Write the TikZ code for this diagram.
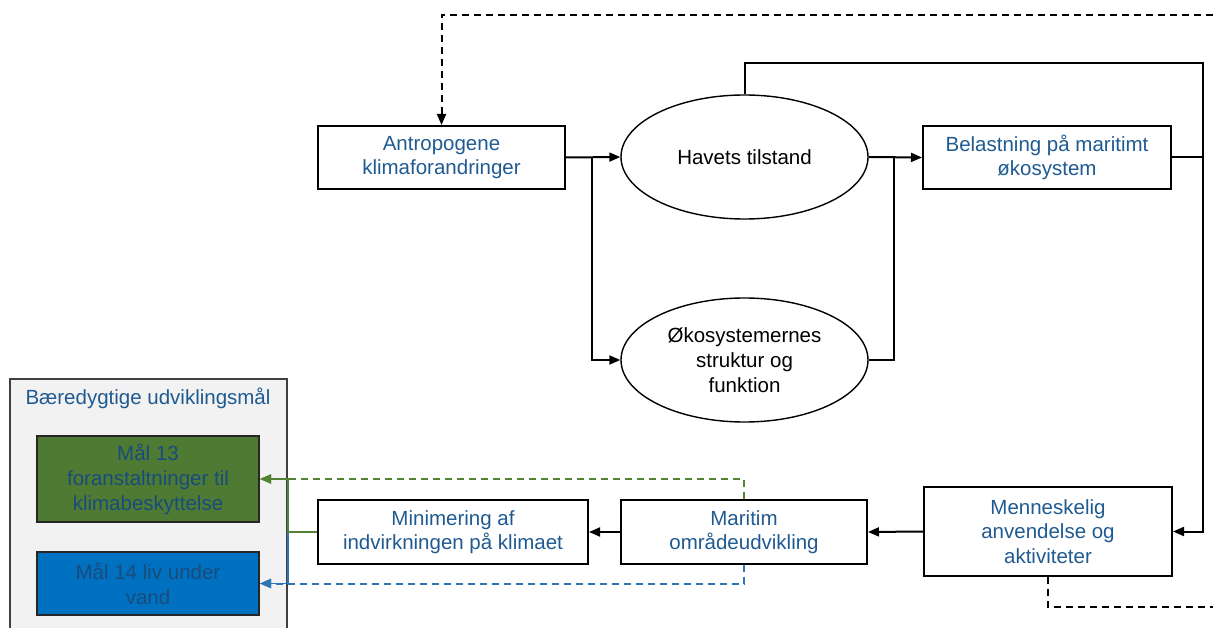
\documentclass[tikz,border=0pt]{standalone}
\usepackage{fontspec}
\setmainfont{Liberation Sans}
\usetikzlibrary{arrows.meta,shapes.geometric}

\definecolor{tekstblaa}{RGB}{31,90,145}
\definecolor{maalgroen}{RGB}{78,122,52}
\definecolor{maalblaa}{RGB}{0,112,192}
\definecolor{pilgroen}{RGB}{84,130,53}
\definecolor{pilblaa}{RGB}{46,117,182}
\definecolor{panelgraa}{RGB}{242,242,242}
\definecolor{kantgraa}{RGB}{64,64,64}

\tikzset{every picture/.style={line width=2pt}}
\tikzset{
  boks/.style={draw, rectangle, inner sep=0pt, align=center, text=tekstblaa,
    font=\fontsize{20.5}{24.5}\selectfont},
  oval/.style={draw, ellipse, line width=1.4pt, inner sep=0pt, align=center,
    minimum width=247pt, minimum height=124pt, font=\fontsize{20.5}{25}\selectfont},
  maal/.style={draw=black!85, rectangle, inner sep=0pt, align=center, text=tekstblaa!85!black,
    minimum width=222pt, font=\fontsize{20.5}{25}\selectfont},
  pil/.style={-{Triangle[length=11pt,width=9pt]}},
  stiplet/.style={dashed, dash pattern=on 7pt off 5pt}
}

\begin{document}
\begin{tikzpicture}[x=1pt,y=1pt,yscale=-1,xscale=1]
\path[use as bounding box] (0,0) rectangle (1213,628);

% panel with the goals
\fill[panelgraa] (10,628) rectangle (287,379);
\draw[kantgraa] (10,628) -- (10,379) -- (287,379) -- (287,628);
\node[text=tekstblaa, font=\fontsize{20.5}{24}\selectfont] (sdg) at (148,398) {Bæredygtige udviklingsmål};
\node[maal, fill=maalgroen, minimum height=86pt] (maal13) at (148,479) {Mål 13\\foranstaltninger til\\klimabeskyttelse};
\node[maal, fill=maalblaa, minimum height=63pt] (maal14) at (148,583.5) {Mål 14 liv under\\vand};

% boxes
\node[boks, minimum width=247pt, minimum height=63pt] (antro) at (441.5,157.5) {Antropogene\\klimaforandringer};
\node[oval] (havet) at (744.5,157) {Havets tilstand};
\node[oval] (oekosys) at (744.5,360) {Økosystemernes\\struktur og\\funktion};
\node[boks, minimum width=248pt, minimum height=63pt] (belast) at (1047,157.5) {Belastning på maritimt\\økosystem};
\node[boks, minimum width=248pt, minimum height=89pt] (menne) at (1048,531.5) {Menneskelig\\anvendelse og\\aktiviteter};
\node[boks, minimum width=246pt, minimum height=64pt] (maritim) at (744,532) {Maritim\\områdeudvikling};
\node[boks, minimum width=270pt, minimum height=64pt] (minim) at (453,532) {Minimering af\\indvirkningen på klimaet};

\coordinate (j1) at (592,157);
\coordinate (j2) at (894,157);
\coordinate (hjoerne) at (1203,63);
\coordinate (j3) at (288,532);
\coordinate (topH) at (1213,15);
\coordinate (bundH) at (1213,607);

% connectors
\draw[pil] (antro.east) -- (havet.west);
\draw[pil] (j1) |- (oekosys.west);
\draw[pil] (havet.east) -- (belast.west);
\draw (oekosys.east) -| (j2);
\draw[pil] (havet.north) |- (hjoerne) |- (menne.east);
\draw (belast.east) -- (belast.east -| hjoerne);
\draw[pil] (menne.west) -- (maritim.east);
\draw[pil] (maritim.west) -- (minim.east);

% links to the goals
\draw[pilgroen, line width=1.5pt] (minim.west) -- (j3);
\draw[pilgroen, line width=1.5pt, pil] (j3) |- (maal13.east);
\draw[pilblaa, line width=1.5pt, pil] (j3) |- (maal14.east);
\draw[pilgroen, stiplet, pil] (maritim.north) |- (maal13.east);
\draw[pilblaa, stiplet, pil] (maritim.south) |- (maal14.east);

% feedback lines
\draw[stiplet, pil] (topH) -| (antro.north);
\draw[stiplet] (menne.south) |- (bundH);
\end{tikzpicture}
\end{document}
